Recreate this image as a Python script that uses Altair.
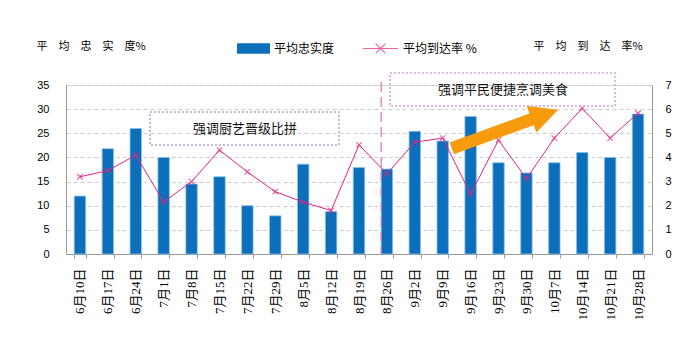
import altair as alt
import pandas as pd

cats = ["6月10日", "6月17日", "6月24日", "7月1日", "7月8日", "7月15日", "7月22日",
        "7月29日", "8月5日", "8月12日", "8月19日", "8月26日", "9月2日", "9月9日",
        "9月16日", "9月23日", "9月30日", "10月7日", "10月14日", "10月21日", "10月28日"]
loyalty = [12, 21.8, 26, 20, 14.5, 16, 10, 7.9, 18.6, 8.8, 17.9,
           17.6, 25.4, 23.4, 28.5, 18.9, 16.8, 18.9, 21, 20, 29]
reach = [3.2, 3.45, 4.1, 2.15, 3.0, 4.3, 3.4, 2.58, 2.15, 1.8, 4.52,
         3.32, 4.63, 4.8, 2.48, 4.72, 3.12, 4.8, 6.03, 4.8, 5.83]
left_ticks = [0, 5, 10, 15, 20, 25, 30, 35]
right_ticks = [0, 1, 2, 3, 4, 5, 6, 7]
series_names = ["平均忠实度", "平均到达率 %"]
left_title = "平　均　忠　实　度%"
right_title = "平　均　到　达　率%"
divider_cat = "8月26日"
notes = ["强调厨艺晋级比拼", "强调平民便捷烹调美食"]

BLUE = "#0b6fbb"
PINK = "#e3237f"
CJK = "Noto Sans CJK SC"

df = pd.DataFrame({"cat": cats, "loyalty": loyalty, "reach": reach,
                   "s1": series_names[0], "s2": series_names[1]})

W, H = 586, 169
xscale = alt.Scale(domain=cats, paddingInner=0.59, paddingOuter=0.295)
xaxis = alt.Axis(title=None, labelAngle=270, labelFont="Liberation Serif, Noto Sans CJK SC",
                 labelFontSize=13, labelColor="#000", labelPadding=10, labelOverlap=False,
                 tickBand="extent", tickSize=4, tickColor="#999", domainColor="#999",
                 grid=False)
X = alt.X("cat:N", scale=xscale, axis=xaxis, sort=None)

base = alt.Chart(df)

bars = base.mark_bar(stroke="#8cc0ea", strokeWidth=0.8).encode(
    x=X,
    y=alt.Y("loyalty:Q", scale=alt.Scale(domain=[0, 35], nice=False),
            axis=alt.Axis(values=left_ticks, title=left_title, titleAngle=0,
                          titleAlign="left", titleBaseline="middle", titleX=-30, titleY=-39,
                          titleFont=CJK, titleFontSize=11, titleFontWeight="normal",
                          titleColor="#000",
                          labelFont="Liberation Sans", labelFontSize=11, labelColor="#000",
                          labelPadding=17, ticks=False, tickSize=0,
                          domainColor="#999", gridColor="#cccccc", gridDash=[4, 3])),
    fill=alt.Fill("s1:N", scale=alt.Scale(domain=[series_names[0]], range=[BLUE]),
                  legend=alt.Legend(title=None, orient="none", legendX=171, legendY=-53,
                                    padding=0, symbolType="M-1,-0.32H1V0.32H-1Z",
                                    symbolSize=1089, symbolStrokeWidth=0,
                                    labelFont=CJK, labelFontSize=12, labelColor="#000",
                                    labelOffset=4)),
)

Y2 = alt.Y("reach:Q", scale=alt.Scale(domain=[0, 7], nice=False),
           axis=alt.Axis(values=right_ticks, orient="right", title=right_title, titleAngle=0,
                         titleAlign="left", titleBaseline="middle", titleX=-119, titleY=-39,
                         titleFont=CJK, titleFontSize=11, titleFontWeight="normal",
                         titleColor="#000",
                         labelFont="Liberation Sans", labelFontSize=11, labelColor="#000",
                         labelPadding=13, ticks=False, tickSize=0,
                         domainColor="#999", grid=False))
stroke_enc = alt.Stroke("s2:N", scale=alt.Scale(domain=[series_names[1]], range=[PINK]),
                        legend=alt.Legend(title=None, orient="none", legendX=296, legendY=-55,
                                          padding=0,
                                          symbolType="M-1,0H1M-0.28,-0.28L0.28,0.28M-0.28,0.28L0.28,-0.28",
                                          symbolSize=1225, symbolStrokeWidth=1.2,
                                          symbolFillColor="transparent",
                                          labelFont=CJK, labelFontSize=12, labelColor="#000",
                                          labelOffset=4))
line = base.mark_line(strokeWidth=1).encode(x=X, y=Y2, stroke=stroke_enc)
pts = base.mark_point(shape="M-1,-1L1,1M-1,1L1,-1", size=30, filled=False,
                      strokeWidth=1.2).encode(x=X, y=Y2, stroke=stroke_enc)
right_layer = alt.layer(line, pts)

divider = alt.Chart(pd.DataFrame({"cat": [divider_cat]})).mark_rule(
    color="#e070a8", strokeDash=[10, 5], strokeWidth=1.2).encode(
    x=alt.X("cat:N", scale=xscale, axis=xaxis, sort=None, bandPosition=0),
    y=alt.value(-3), y2=alt.value(H))

one = pd.DataFrame({"t": [notes[0]]})
two = pd.DataFrame({"t": [notes[1]]})
box1 = alt.Chart(one).mark_rect(fill="white", fillOpacity=0, stroke="#aaa8d4",
                                strokeDash=[2, 2], strokeWidth=1.5).encode(
    x=alt.value(84), x2=alt.value(273), y=alt.value(27), y2=alt.value(60))
txt1 = alt.Chart(one).mark_text(font=CJK, fontSize=13, color="#111", align="center",
                                baseline="middle").encode(
    x=alt.value(179), y=alt.value(44), text="t:N")
box2 = alt.Chart(two).mark_rect(fill="white", fillOpacity=0, stroke="#d6a0d6",
                                strokeDash=[2, 2], strokeWidth=1.5).encode(
    x=alt.value(324), x2=alt.value(549), y=alt.value(-12), y2=alt.value(21))
txt2 = alt.Chart(two).mark_text(font=CJK, fontSize=13, color="#111", align="center",
                                baseline="middle").encode(
    x=alt.value(437), y=alt.value(5), text="t:N")
arrow = alt.Chart(two).mark_point(
    shape="M-1,-0.11L0.5,-0.11L0.5,-0.25L1,0L0.5,0.25L0.5,0.11L-1,0.11Z",
    size=12800, filled=True, fill="#f79a0c", opacity=1, strokeWidth=0, angle=340).encode(
    x=alt.value(439), y=alt.value(44))

chart = alt.layer(bars, divider, right_layer, box1, txt1, box2, txt2, arrow).resolve_scale(
    y="independent", fill="independent", stroke="independent"
).properties(
    width=W, height=H, autosize="none",
    padding={"left": 66, "top": 85, "right": 48, "bottom": 101},
).configure_view(stroke=None).configure(background="white")

chart.save("out.html", embed_options={"renderer": "svg", "actions": False})
